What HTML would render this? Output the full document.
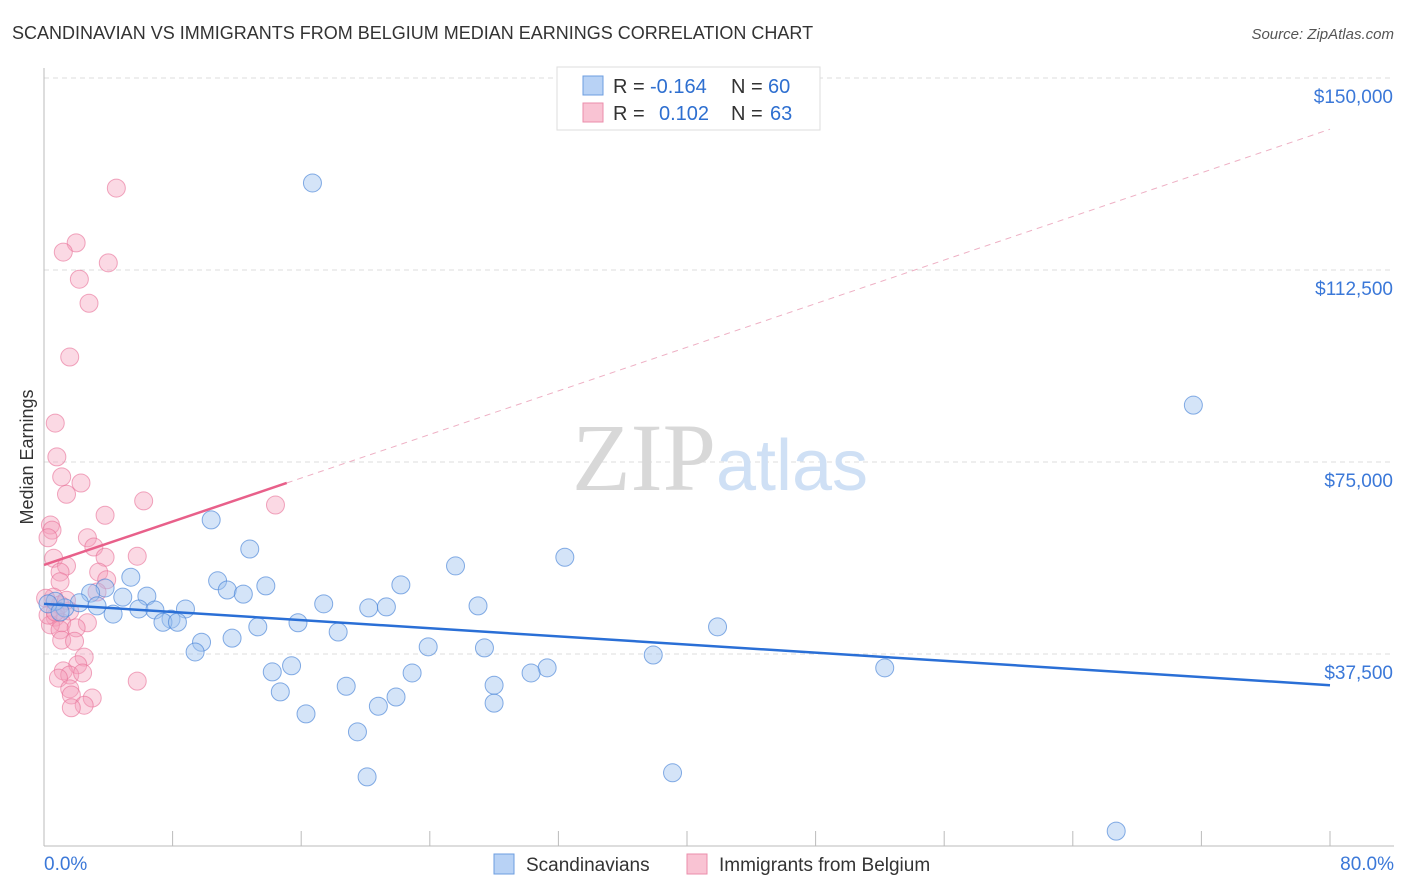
<!DOCTYPE html>
<html><head><meta charset="utf-8"><style>
body{margin:0;background:#fff;font-family:"Liberation Sans",sans-serif}
</style></head><body>
<svg width="1406" height="892" xmlns="http://www.w3.org/2000/svg" style="display:block">
<text x="12" y="39" font-size="18" fill="#333">SCANDINAVIAN VS IMMIGRANTS FROM BELGIUM MEDIAN EARNINGS CORRELATION CHART</text>
<text x="1394" y="39" font-size="15" fill="#555" text-anchor="end" font-style="italic">Source: ZipAtlas.com</text>
<g id="grid"></g>
<text x="720" y="490" font-size="96" text-anchor="middle" fill="#ddd" font-family="Liberation Serif"><tspan fill="#d8d8d8">ZIP</tspan><tspan fill="#cfe0f5" font-family="Liberation Sans" font-size="72">atlas</tspan></text>
<text transform="translate(33,457) rotate(-90)" font-size="18" fill="#333" text-anchor="middle">Median Earnings</text>
<g id="pts"></g>
<g id="lines"></g>
<g>
<rect x="557" y="67" width="263" height="63" fill="#fff" stroke="#ddd"/>
<rect x="583" y="76" width="20" height="19" fill="#b8d2f5" stroke="#6c9ee0"/>
<rect x="583" y="103" width="20" height="19" fill="#f9c3d3" stroke="#eb8eab"/>
<text x="613" y="93" font-size="20" fill="#333">R =</text>
<text x="650" y="93" font-size="20" fill="#2e6fd0">-0.164</text>
<text x="731" y="93" font-size="20" fill="#333">N =</text>
<text x="768" y="93" font-size="20" fill="#2e6fd0">60</text>
<text x="613" y="120" font-size="20" fill="#333">R =</text>
<text x="659" y="120" font-size="20" fill="#2e6fd0">0.102</text>
<text x="731" y="120" font-size="20" fill="#333">N =</text>
<text x="770" y="120" font-size="20" fill="#2e6fd0">63</text>
</g>
<g>
<rect x="494" y="854" width="20" height="20" fill="#b8d2f5" stroke="#6c9ee0"/>
<text x="526" y="871" font-size="19" fill="#333">Scandinavians</text>
<rect x="687" y="854" width="20" height="20" fill="#f9c3d3" stroke="#eb8eab"/>
<text x="719" y="871" font-size="19" fill="#333">Immigrants from Belgium</text>
</g>
</svg>
<script>
const yTicks=[37500,75000,112500,150000];
const yTickLabels=["$37,500","$75,000","$112,500","$150,000"];
const xTickLabels=["0.0%","80.0%"];
const blueX=[16.7,71.5,10.4,12.8,32.4,25.6,5.4,10.8,22.2,13.8,11.4,12.4,3.8,2.9,6.4,4.9,2.2,3.3,1.3,0.7,5.9,6.9,8.8,4.3,17.4,20.2,21.3,27.0,7.9,7.4,8.3,15.8,13.3,18.3,41.9,11.7,9.8,9.4,23.9,27.4,37.9,31.3,52.3,15.4,14.2,22.9,30.3,14.7,18.8,28.0,21.9,20.8,28.0,16.3,19.5,20.1,39.1,66.7,0.25,1.0];
const blueY=[129.5,86.1,63.7,58.0,56.4,54.7,52.5,51.8,51.0,50.8,50.0,49.2,50.4,49.4,48.8,48.6,47.5,46.9,46.5,47.8,46.3,46.1,46.3,45.3,47.3,46.5,46.7,46.9,44.3,43.7,43.7,43.6,42.8,41.8,42.8,40.6,39.8,37.9,38.9,38.7,37.3,34.8,34.8,35.2,34.0,33.8,33.8,30.1,31.2,31.4,29.1,27.3,27.9,25.8,22.3,13.5,14.3,2.9,47.3,45.7];
const pinkX=[4.5,2.0,1.2,4.0,2.2,2.8,1.6,0.7,0.8,1.1,2.3,1.4,6.2,14.4,3.8,0.4,0.5,0.25,2.7,3.1,5.8,3.8,0.6,1.4,1.0,3.4,3.9,1.0,3.3,0.6,1.0,1.6,0.7,1.1,0.4,2.7,1.0,2.0,1.1,1.9,2.5,2.1,1.2,1.6,2.4,0.9,5.8,1.6,1.7,3.0,2.5,1.7,0.1,0.25,0.7,1.4];
const pinkY=[128.5,117.8,116.0,113.9,110.7,106.0,95.5,82.6,76.0,72.1,70.9,68.7,67.4,66.6,64.6,62.7,61.7,60.2,60.2,58.4,56.6,56.4,56.2,54.7,53.5,53.5,52.0,51.6,49.6,48.6,47.1,45.9,44.7,43.6,43.2,43.6,42.2,42.6,40.2,40.0,36.9,35.4,34.2,33.4,33.8,32.8,32.2,30.7,29.5,28.9,27.5,27.0,48.4,45.1,45.7,48.0];
const blueTrend=[[0,47.3],[80,31.4]];
const pinkTrendSolid=[[0,54.9],[15.1,70.9]];
const pinkTrendDash=[[15.1,70.9],[80,140.0]];
const NS="http://www.w3.org/2000/svg";
const X=v=>44+v/80*1286, Y=k=>846-k*1000/37500*192;
function mk(t,a,p){const e=document.createElementNS(NS,t);for(const k in a)e.setAttribute(k,a[k]);p.appendChild(e);return e;}
const grid=document.getElementById('grid');
yTicks.forEach((t,i)=>{
 const l=mk('line',{x1:44,x2:1394,y1:Y(t/1000),y2:Y(t/1000),stroke:'#ddd','stroke-dasharray':'5,4'},grid);
 
 
 const tx=mk('text',{x:1393,y:Y(t/1000)+25,'font-size':19,fill:'#3b78d8','text-anchor':'end'},grid);tx.textContent=yTickLabels[i];
 
 
});
const ax=mk('line',{x1:44,x2:44,y1:68,y2:846,stroke:'#bbb'},grid);


const bx=mk('line',{x1:44,x2:1394,y1:846,y2:846,stroke:'#bbb'},grid);


for(let i=0;i<=10;i++){const t=mk('line',{x1:X(i*8),x2:X(i*8),y1:831,y2:846,stroke:'#bbb'},grid);
 
 }
[[0,'start',44],[80,'end',1394]].forEach((d,i)=>{const t=mk('text',{x:d[2],y:870,'font-size':19,fill:'#3b78d8','text-anchor':d[1]},grid);t.textContent=xTickLabels[i];
 
 });
const pts=document.getElementById('pts');
pinkX.forEach((x,i)=>{const c=mk('circle',{cx:X(x),cy:Y(pinkY[i]),r:9,fill:'rgba(245,160,188,0.4)',stroke:'rgba(232,110,150,0.6)','stroke-width':1},pts);
 
 });
blueX.forEach((x,i)=>{const c=mk('circle',{cx:X(x),cy:Y(blueY[i]),r:9,fill:'rgba(160,195,240,0.45)',stroke:'rgba(70,130,215,0.65)','stroke-width':1},pts);
 
 });
const lines=document.getElementById('lines');
function ln(p,st,w,dash,name){const l=mk('line',{x1:X(p[0][0]),y1:Y(p[0][1]),x2:X(p[1][0]),y2:Y(p[1][1]),stroke:st,'stroke-width':w},lines);if(dash)l.setAttribute('stroke-dasharray',dash);
 
 }
ln(pinkTrendDash,'#eeb0c4',1,'6,5','belgium-trend-extension');
ln(pinkTrendSolid,'#e8608a',2.5,null,'belgium-trend-line');
ln(blueTrend,'#2a6fd6',2.5,null,'scandinavian-trend-line');
</script>
</body></html>
